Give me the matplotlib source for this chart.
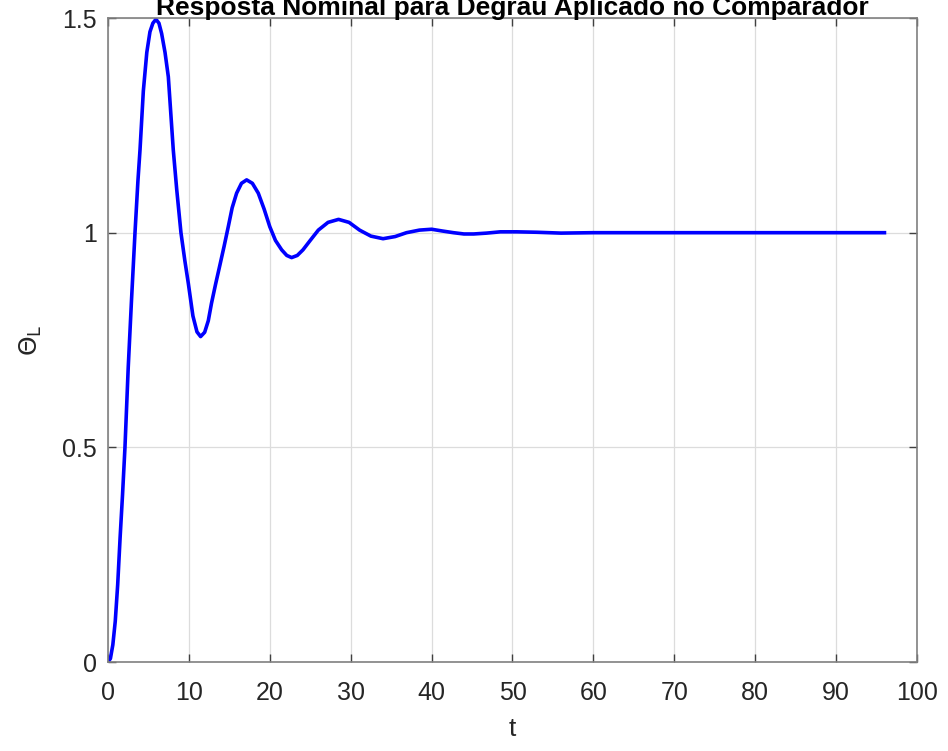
import matplotlib
matplotlib.use("Agg")
import matplotlib.pyplot as plt

plt.rcParams['font.family'] = ['Liberation Sans', 'DejaVu Sans']

# Values (t, theta_L)
t_values = [0.0, 0.3, 0.6, 0.9, 1.2, 1.5, 1.8, 2.1, 2.5, 2.9, 3.34, 3.7, 3.96, 4.37,
            4.8, 5.19, 5.55, 5.93, 6.3, 6.63, 7.05, 7.46, 8.07, 8.5, 9.02, 9.5, 9.93,
            10.5, 11.0, 11.45, 11.95, 12.4, 12.8, 13.3, 13.84, 14.35, 14.87, 15.35,
            15.9, 16.5, 17.14, 17.85, 18.58, 19.3, 20.0, 20.7, 21.47, 22.1, 22.7,
            23.4, 24.1, 25.0, 26.0, 27.2, 28.5, 29.8, 31.1, 32.5, 34.0, 35.5, 36.9,
            38.5, 40.0, 41.3, 42.7, 44.0, 45.2, 46.8, 48.5, 50.5, 53.0, 56.0, 60.0,
            65.0, 70.0, 75.0, 80.0, 85.0, 90.0, 96.2]
theta_values = [0.0, 0.008, 0.04, 0.095, 0.18, 0.29, 0.39, 0.50, 0.685, 0.84, 1.0,
                1.12, 1.193, 1.33, 1.42, 1.468, 1.488, 1.497, 1.488, 1.464, 1.42, 1.363,
                1.193, 1.10, 1.0, 0.935, 0.882, 0.806, 0.769, 0.758, 0.768, 0.795, 0.836,
                0.88, 0.925, 0.968, 1.014, 1.058, 1.092, 1.115, 1.123, 1.115, 1.092,
                1.055, 1.014, 0.982, 0.960, 0.947, 0.942, 0.947, 0.960, 0.982, 1.006,
                1.024, 1.031, 1.024, 1.006, 0.992, 0.986, 0.991, 1.0, 1.006, 1.008,
                1.004, 1.0, 0.997, 0.997, 0.999, 1.002, 1.002, 1.001, 0.999, 1.0, 1.0,
                1.0, 1.0, 1.0, 1.0, 1.0, 1.0]

x_ticks = [0, 10, 20, 30, 40, 50, 60, 70, 80, 90, 100]
y_ticks = [0, 0.5, 1, 1.5]
y_tick_labels = ['0', '0.5', '1', '1.5']

fig = plt.figure(figsize=(9.48, 7.51), dpi=100)
ax = fig.add_axes([0.1139, 0.1185, 0.8534, 0.8575])

ax.plot(t_values, theta_values, color='#0000ff', linewidth=2.6,
        solid_joinstyle='round', solid_capstyle='butt')

ax.set_xlim(0, 100)
ax.set_ylim(0, 1.5)
ax.set_xticks(x_ticks)
ax.set_yticks(y_ticks)
ax.set_yticklabels(y_tick_labels)
ax.grid(True, color='#dcdcdc', linewidth=0.9)
ax.set_axisbelow(True)

for s in ax.spines.values():
    s.set_color('#808080')
    s.set_linewidth(1.2)
ax.tick_params(direction='in', top=True, right=True, length=6, width=1,
               color='#404040', labelsize=18, labelcolor='#262626')
ax.tick_params(axis='x', pad=14)
ax.tick_params(axis='y', pad=8)

ax.set_xlabel('t', fontsize=19, color='#262626', labelpad=8)
ax.set_ylabel(r'$\Theta_\mathrm{L}$', fontsize=18, color='#262626', labelpad=13)
ax.text(0.5, 1.005, 'Resposta Nominal para Degrau Aplicado no Comparador',
        transform=ax.transAxes, ha='center', va='baseline', fontsize=19,
        fontweight='bold', color='black')

fig.savefig('out.png', dpi=100, facecolor='white')
